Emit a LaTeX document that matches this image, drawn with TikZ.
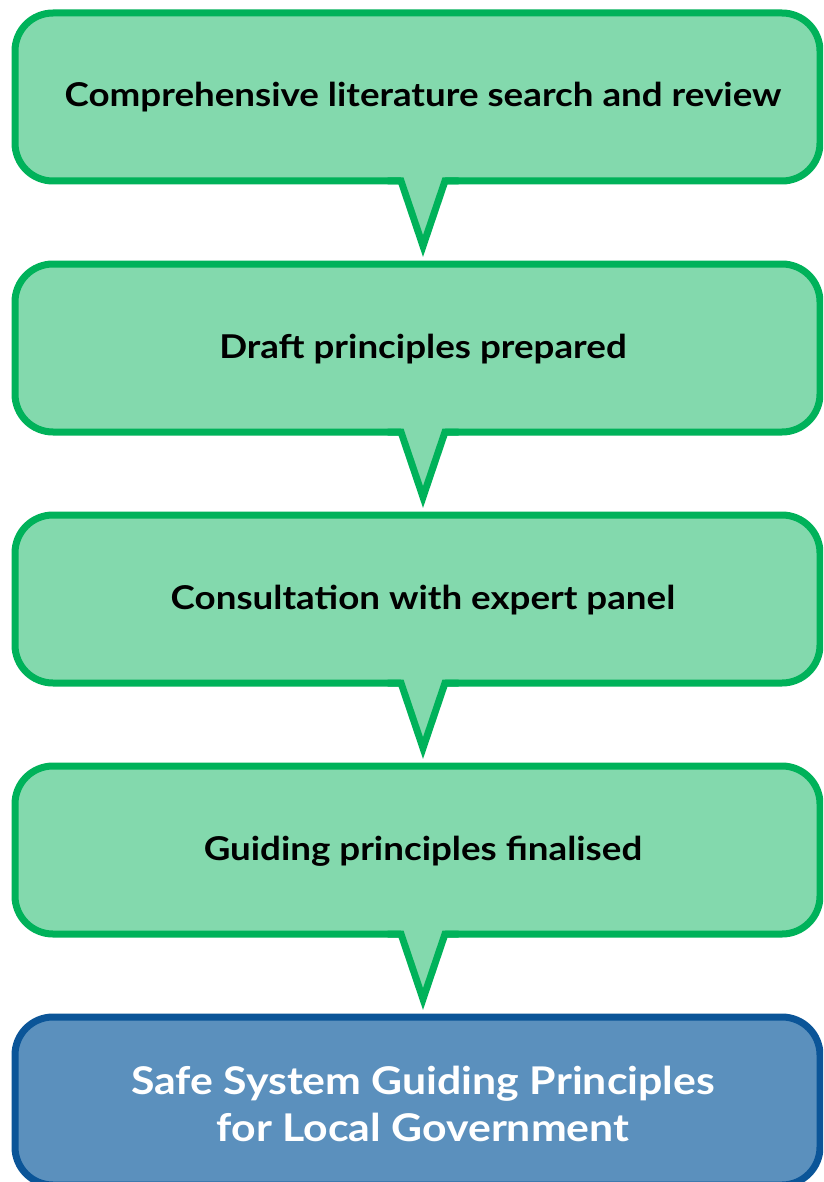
\documentclass[tikz,border=0pt]{standalone}
\usepackage{fontspec}
\setmainfont{Lato}[FakeStretch=1.12]
\usetikzlibrary{calc}
\definecolor{gfill}{HTML}{83D9AD}
\definecolor{gline}{HTML}{00B25A}
\definecolor{bfill}{HTML}{5B90BD}
\definecolor{bline}{HTML}{0B5598}
\newcommand\callouttip[1]{%
  \fill[gfill] ($(#1.south)+(-16.5,-3.8)$) -- ($(#1.south)+(27.5,-3.8)$) -- ($(#1.south)+(27.5,0)$)
     -- ($(#1.south)+(5.5,65)$) -- ($(#1.south)+(-16.5,0)$) -- cycle;
  \draw[gline, line width=7pt, miter limit=10] ($(#1.south)+(-30,0)$) -- ($(#1.south)+(-16.5,0)$)
     -- ($(#1.south)+(5.5,65)$) -- ($(#1.south)+(27.5,0)$) -- ($(#1.south)+(41,0)$);
}
\begin{document}
\begin{tikzpicture}[x=1pt,y=-1pt,
  boxshape/.style={rectangle, rounded corners=38pt, line width=7pt, outer sep=0pt, minimum width=805pt, minimum height=168pt, inner sep=0pt},
  greenbox/.style={boxshape, draw=gline, fill=gfill},
  bluebox/.style={boxshape, draw=bline, fill=bfill},
  steptext/.style={anchor=base, inner sep=0pt, text=black, font=\fontsize{32.8}{40}\selectfont\bfseries},
  finaltext/.style={inner sep=0pt, text=white, align=center, font=\fontsize{38.2}{47}\selectfont\bfseries}]
\useasboundingbox (0,0) rectangle (823,1182);
\clip (0,0) rectangle (823,1182);
\fill[white] (0,0) rectangle (823,1182);
% boxes
\node[greenbox] (b1) at (417.5,97) {};
\node[greenbox] (b2) at (417.5,348) {};
\node[greenbox] (b3) at (417.5,599) {};
\node[greenbox] (b4) at (417.5,850) {};
\node[bluebox]  (b5) at (417.5,1101) {};
% pointers
\callouttip{b1}
\callouttip{b2}
\callouttip{b3}
\callouttip{b4}
% texts
\node[steptext] (t1) at (423,107) {Comprehensive literature search and review};
\node[steptext] (t2) at (423,358) {Draft principles prepared};
\node[steptext] (t3) at (423,609) {Consultation with expert panel};
\node[steptext] (t4) at (423,860) {Guiding principles finalised};
\node[finaltext] (t5) at (423,1104) {Safe System Guiding Principles\\for Local Government};
\end{tikzpicture}
\end{document}
